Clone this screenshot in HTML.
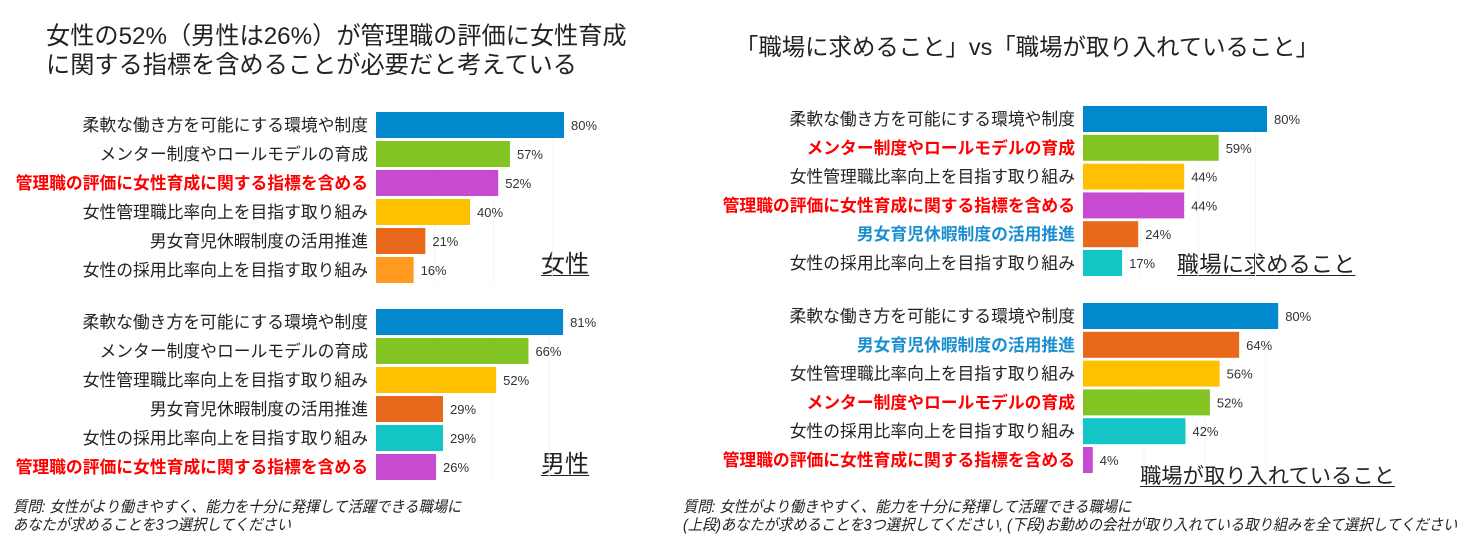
<!DOCTYPE html>
<html><head><meta charset="utf-8">
<style>
body{margin:0;width:1477px;height:554px;background:#fff;overflow:hidden;position:relative;font-family:"Liberation Sans","Noto Sans CJK JP",sans-serif;color:#222}
.t{position:absolute;white-space:nowrap}
.title{color:#222;line-height:29px}
.note{font-size:15.5px;font-style:italic;line-height:18px;transform:scaleX(0.92);transform-origin:left top;color:#222}
.ul{text-decoration:underline;text-decoration-thickness:1px;text-underline-offset:3px;color:#222}
svg{position:absolute;left:0;top:0}
</style></head><body>
<div class="t title" style="left:46px;top:22px;font-size:24.2px">女性の52%（男性は26%）が管理職の評価に女性育成<br>に関する指標を含めることが必要だと考えている</div>
<div class="t title" style="left:735px;top:33px;font-size:23.4px">「職場に求めること」vs「職場が取り入れていること」</div>
<div class="t ul" style="left:541px;top:244px;font-size:24px">女性</div>
<div class="t ul" style="left:541px;top:444px;font-size:24px">男性</div>
<div class="t ul" style="left:1177px;top:247px;font-size:22.3px">職場に求めること</div>
<div class="t ul" style="left:1140px;top:459px;font-size:21.3px">職場が取り入れていること</div>
<div class="t note" style="left:13px;top:499px">質問: 女性がより働きやすく、能力を十分に発揮して活躍できる職場に<br>あなたが求めることを3つ選択してください</div>
<div class="t note" style="left:683px;top:499px">質問: 女性がより働きやすく、能力を十分に発揮して活躍できる職場に<br>(上段)あなたが求めることを3つ選択してください, (下段)お勤めの会社が取り入れている取り組みを全て選択してください</div>
<svg id="chart" width="1477" height="554"></svg>
<script>
const C={blue:'#0288cc',green:'#82c522',purple:'#c74bd0',yellow:'#ffc000',orange:'#e8681c',lorange:'#ff9a1e',teal:'#13c5c5'};
const womenCats=['柔軟な働き方を可能にする環境や制度','メンター制度やロールモデルの育成','管理職の評価に女性育成に関する指標を含める','女性管理職比率向上を目指す取り組み','男女育児休暇制度の活用推進','女性の採用比率向上を目指す取り組み'];
const womenVals=[80,57,52,40,21,16];
const womenColors=['blue','green','purple','yellow','orange','lorange'];
const womenLabelColors=['k','k','r','k','k','k'];
const menCats=['柔軟な働き方を可能にする環境や制度','メンター制度やロールモデルの育成','女性管理職比率向上を目指す取り組み','男女育児休暇制度の活用推進','女性の採用比率向上を目指す取り組み','管理職の評価に女性育成に関する指標を含める'];
const menVals=[81,66,52,29,29,26];
const menColors=['blue','green','yellow','orange','teal','purple'];
const menLabelColors=['k','k','k','k','k','r'];
const wantCats=['柔軟な働き方を可能にする環境や制度','メンター制度やロールモデルの育成','女性管理職比率向上を目指す取り組み','管理職の評価に女性育成に関する指標を含める','男女育児休暇制度の活用推進','女性の採用比率向上を目指す取り組み'];
const wantVals=[80,59,44,44,24,17];
const wantColors=['blue','green','yellow','purple','orange','teal'];
const wantLabelColors=['k','r','k','r','b','k'];
const haveCats=['柔軟な働き方を可能にする環境や制度','男女育児休暇制度の活用推進','女性管理職比率向上を目指す取り組み','メンター制度やロールモデルの育成','女性の採用比率向上を目指す取り組み','管理職の評価に女性育成に関する指標を含める'];
const haveVals=[80,64,56,52,42,4];
const haveColors=['blue','orange','yellow','green','teal','purple'];
const haveLabelColors=['k','b','k','r','k','r'];

const svg=document.getElementById('chart');
const NS='http://www.w3.org/2000/svg';
const LC={k:'#222',r:'#ff0000',b:'#1a8fd0'};
function panel(name,cats,vals,cols,lcols,x0,y0,scale,pitch){
  const xs=v=>x0+v*scale;
  const ys=i=>y0+i*pitch;
  [25,50,75].forEach(t=>{
    const g=document.createElementNS(NS,'line');
    
    
    g.setAttribute('x1',xs(t));g.setAttribute('x2',xs(t));
    g.setAttribute('y1',ys(0)-pitch/2);g.setAttribute('y2',ys(cats.length-1)+pitch/2);
    g.setAttribute('stroke','#f6f6f6');svg.appendChild(g);
  });
  cats.forEach((c,i)=>{
    const y=ys(i);
    const r=document.createElementNS(NS,'rect');
    
    
    r.setAttribute('x',x0);r.setAttribute('y',y-13);
    r.setAttribute('width',Math.max(1,xs(vals[i])-x0));r.setAttribute('height',26);
    r.setAttribute('fill',C[cols[i]]);svg.appendChild(r);
    const l=document.createElementNS(NS,'text');
    
    
    l.setAttribute('x',x0-8);l.setAttribute('y',y+6);
    l.setAttribute('text-anchor','end');l.setAttribute('font-size','16.8');
    l.setAttribute('fill',LC[lcols[i]]);
    if(lcols[i]!=='k')l.setAttribute('font-weight','bold');
    l.textContent=c;svg.appendChild(l);
    const v=document.createElementNS(NS,'text');
    
    
    v.setAttribute('x',xs(vals[i])+7);v.setAttribute('y',y+5);
    v.setAttribute('font-size','13');v.setAttribute('fill','#333');
    v.textContent=vals[i]+'%';svg.appendChild(v);
  });
}
panel('women',womenCats,womenVals,womenColors,womenLabelColors,376,125,2.35,29);
panel('men',menCats,menVals,menColors,menLabelColors,376,322,2.31,29);
panel('desired',wantCats,wantVals,wantColors,wantLabelColors,1083,119,2.3,28.8);
panel('implemented',haveCats,haveVals,haveColors,haveLabelColors,1083,316,2.44,28.8);
</script>
</body></html>
